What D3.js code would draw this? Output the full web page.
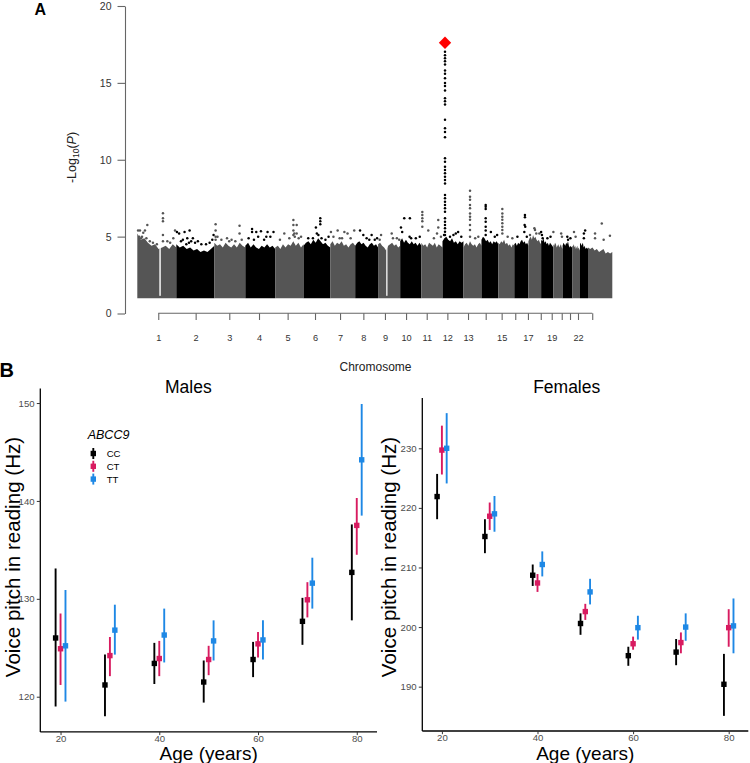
<!DOCTYPE html>
<html><head><meta charset="utf-8">
<script src="https://cdn.jsdelivr.net/npm/d3@7"></script>
<style>
body{margin:0;background:#fff}
svg{display:block;font-family:"Liberation Sans",Arial,Helvetica,sans-serif}
</style>
</head><body>
<svg id="c" width="750" height="763"></svg>
<script>
// ---------------- Panel A data (Manhattan plot) ----------------
const chromosomes = ["1","2","3","4","5","6","7","8","9","10","11","12","13","14","15","16","17","18","19","20","21","22","X"];
const chrLengthMb = [249.3,243.2,198.0,191.2,180.9,171.1,159.1,146.4,141.2,135.5,135.0,133.9,115.2,107.3,102.5,90.4,81.2,78.1,59.1,63.0,48.1,51.3,155.3];
// axis tick positions (cumulative Mb) and labels as printed
const chrTickMb = [134,373,588,778,961,1136,1296,1445,1583,1718,1850,1982,2114,2227,2329,2416,2497,2579,2649,2713,2766,2817,2908];
const chrTickLabels = ["1","2","3","4","5","6","7","8","9","10","11","12","13","","15","","17","","19","","","22",""];
// upper edge of the dense cloud of SNPs (-log10 P), evenly along each chromosome
const chrEnvelope = [
  [5.2,4.8,4.9,4.6,4.4,4.5,4.2,4.3,4.4,4.2,4.5,4.3],
  [4.5,4.3,4.4,4.2,4.3,4.1,4.2,4.0,4.1,4.0,4.2,4.4],
  [4.6,4.4,4.5,4.3,4.6,4.4,4.3,4.5,4.3,4.6,4.4,4.3],
  [4.4,4.6,4.3,4.5,4.3,4.2,4.4,4.3,4.5,4.3,4.4,4.2],
  [4.3,4.4,4.2,4.5,4.3,4.5,4.4,4.7,4.4,4.6,4.3,4.5],
  [4.4,4.6,4.7,4.5,4.8,4.6,4.9,4.7,4.5,4.6,4.4,4.3],
  [4.5,4.7,4.4,4.6,4.5,4.7,4.4,4.5,4.3,4.5,4.6,4.4],
  [4.4,4.6,4.7,4.5,4.6,4.4,4.3,4.5,4.6,4.4,4.5,4.3],
  [4.5,4.6,4.4,4.3,4.1,4.4,4.5,4.6,4.4,4.5,4.3,4.4],
  [4.7,4.9,4.6,4.8,4.6,4.5,4.7,4.5,4.6,4.4,4.6,4.4],
  [4.6,4.4,4.5,4.3,4.6,4.5,4.4,4.6,4.3,4.5,4.4,4.3],
  [4.7,4.9,5.0,4.8,4.7,4.9,4.6,4.7,4.5,4.7,4.6,4.7],
  [4.3,4.5,4.6,4.4,4.7,4.5,4.4,4.5,4.3,4.5,4.6,4.4],
  [4.8,5.0,4.9,4.7,4.8,4.6,4.7,4.5,4.7,4.6,4.7,4.5],
  [4.6,4.5,4.7,4.6,4.8,4.5,4.6,4.4,4.5,4.3,4.5,4.4],
  [4.5,4.6,4.4,4.6,4.5,4.7,4.8,4.6,4.7,4.5,4.6,4.4],
  [4.7,4.9,5.0,4.8,5.1,4.9,5.0,4.8,4.7,4.8,4.6,4.5],
  [4.8,4.7,4.9,4.6,4.7,4.5,4.6,4.4,4.6,4.5,4.4,4.3],
  [4.5,4.4,4.6,4.5,4.3,4.4,4.5,4.3,4.4,4.5,4.3,4.2],
  [4.4,4.6,4.5,4.4,4.6,4.5,4.7,4.4,4.3,4.4,4.3,4.4],
  [4.3,4.4,4.5,4.3,4.4,4.2,4.3,4.4,4.2,4.3,4.2,4.1],
  [4.5,4.6,4.4,4.5,4.6,4.3,4.4,4.3,4.2,4.3,4.2,4.3],
  [4.3,4.2,4.3,4.1,4.2,4.0,4.1,4.2,3.9,4.0,3.9,4.0]
];
// regions without SNPs: [chromosome index, start Mb, end Mb]
const chrGaps = [[0,141,150],[8,52,60]];
// individual SNPs above the dense cloud: [chromosome index, Mb, -log10 P]
const topSnps = [
  [0,5,5.4],[0,17,5.4],[0,30,5.0],[0,38,5.25],[0,49,5.4],[0,64,5.76],[0,58,4.9],[0,80,4.7],[0,164,6.52],[0,164,6.2],[0,164,6.0],[0,164,5.1],[0,164,4.7],[0,192,4.7],[0,230,4.9],[0,241,5.4],[0,210,4.6],[0,12,5.0],[0,24,4.9],[0,100,4.6],[0,125,4.5],
  [1,4,5.3],[1,18,5.2],[1,42,4.8],[1,53,5.3],[1,64,4.5],[1,81,4.6],[1,85,5.4],[1,106,4.9],[1,120,4.6],[1,138,4.7],[1,160,4.5],[1,190,4.5],[1,213,4.6],[1,230,4.8],[1,238,5.1],[1,30,4.7],[1,70,4.9],[1,95,4.7],
  [2,8,5.8],[2,8,5.4],[2,8,5.0],[2,8,4.8],[2,20,5.0],[2,81,4.9],[2,95,4.7],[2,134,4.7],[2,161,5.7],[2,161,5.2],[2,175,4.8],[2,45,4.8],[2,110,4.8],
  [3,21,4.9],[3,43,5.5],[3,43,5.3],[3,70,5.3],[3,82,5.0],[3,100,5.35],[3,134,5.0],[3,142,5.3],[3,160,5.0],[3,180,5.3],[3,55,4.8],[3,120,4.8],
  [4,58,5.2],[4,90,4.9],[4,116,6.08],[4,116,5.76],[4,116,5.4],[4,116,5.1],[4,122,5.2],[4,125,5.0],[4,150,4.9],[4,137,5.76],[4,137,5.2],[4,165,5.0],[4,30,4.8],
  [5,79,5.6],[5,85,5.2],[5,60,4.9],[5,107,6.2],[5,107,6.0],[5,107,5.8],[5,115,4.9],[5,140,4.8],[5,30,4.9],[5,160,5.0],[5,95,5.1],
  [6,4,5.3],[6,20,5.0],[6,47,5.4],[6,60,4.9],[6,90,5.3],[6,110,5.2],[6,130,4.9],[6,153,5.4],[6,75,4.9],
  [7,31,5.4],[7,52,5.1],[7,73,4.9],[7,105,5.1],[7,125,4.8],[7,140,4.9],[7,90,4.8],
  [8,19,5.1],[8,87,5.2],[8,95,4.9],[8,120,4.9],[8,135,4.8],[8,10,4.8],
  [9,5,5.6],[9,13,5.3],[9,26,6.2],[9,62,6.2],[9,70,4.9],[9,60,5.0],[9,100,4.9],[9,125,5.0],
  [10,6,6.6],[10,6,6.4],[10,6,6.2],[10,6,6.0],[10,6,5.65],[10,44,5.4],[10,108,6.08],[10,108,5.6],[10,100,5.2],[10,80,4.9],[10,125,5.0],
  [11,16,17.03],[11,16,16.8],[11,16,16.6],[11,16,16.4],[11,16,16.2],[11,16,15.8],[11,16,15.6],[11,16,15.3],[11,16,15.0],[11,16,14.8],[11,16,14.5],[11,16,14.0],[11,16,13.8],[11,16,13.6],[11,16,12.6],[11,16,12.05],[11,16,11.8],[11,16,11.46],[11,16,10.1],[11,16,9.87],[11,16,9.55],[11,16,9.33],[11,16,9.12],[11,16,8.9],[11,16,8.68],[11,16,8.46],[11,16,7.7],[11,16,7.49],[11,16,7.27],[11,16,7.06],[11,16,6.84],[11,16,6.62],[11,16,6.19],[11,16,5.97],[11,16,5.76],[11,16,5.54],[11,16,5.32],[11,16,5.1],
  [11,48,5.0],[11,70,5.1],[11,100,5.3],[11,85,5.2],[11,120,5.0],[11,10,5.1],
  [12,42,7.99],[12,42,7.6],[12,42,7.4],[12,42,7.06],[12,42,6.84],[12,42,6.5],[12,42,6.3],[12,42,6.1],[12,42,5.76],[12,42,5.43],[12,42,5.0],[12,95,5.0],[12,75,4.9],
  [13,27,7.06],[13,27,6.95],[13,27,6.8],[13,27,6.19],[13,27,5.97],[13,27,5.65],[13,27,5.4],[13,27,5.1],[13,60,5.3],[13,85,5.0],[13,100,5.1],
  [14,26,6.8],[14,26,6.5],[14,26,6.3],[14,26,6.1],[14,26,5.87],[14,26,5.65],[14,26,5.43],[14,26,5.2],[14,60,5.0],[14,90,4.9],
  [15,68,6.4],[15,68,6.26],[15,66,5.76],[15,70,5.65],[15,64,5.3],[15,80,5.0],[15,20,5.0],
  [16,38,5.54],[16,42,5.43],[16,50,5.2],[16,10,5.1],[16,70,5.2],
  [17,0,5.3],[17,5,5.1],[17,10,4.9],[17,40,4.9],[17,60,5.0],
  [18,0,5.3],[18,50,5.2],[18,55,5.0],
  [19,30,5.0],[19,35,4.8],[19,50,4.9],
  [20,10,5.3],[20,20,5.0],
  [21,33,5.4],[21,25,5.2],[21,25,4.9],
  [22,45,5.2],[22,88,5.86],[22,140,5.05],[22,45,4.9],[22,100,4.8]
];
const leadSnp = [11, 16, 17.61]; // chromosome index, Mb, -log10 P
const yTicksA = [0,5,10,15,20];

// ---------------- Panel B data ----------------
const ages = [20,30,40,50,60,70,80];
const genotypes = ["CC","CT","TT"];
const genotypeColors = ["#000000","#D81B60","#1E88E5"];
const maleMean = [
  [126.0,121.2,123.4,121.5,123.8,127.7,132.7],
  [124.9,124.2,123.9,123.8,125.4,129.9,137.5],
  [125.2,126.8,126.3,125.7,125.8,131.6,144.2]
];
const maleLow = [
  [119.0,118.0,121.3,119.4,122.0,125.3,127.8],
  [121.2,122.1,122.1,122.2,124.0,128.1,134.5],
  [119.5,124.3,123.5,123.7,123.8,129.0,138.5]
];
const maleHigh = [
  [133.1,124.3,125.5,123.7,125.6,130.1,137.6],
  [128.5,126.1,125.7,125.2,126.6,131.7,140.3],
  [130.9,129.4,129.0,127.8,127.8,134.2,149.9]
];
const femaleMean = [
  [221.9,215.2,208.7,200.6,195.2,195.8,190.4],
  [229.7,218.6,207.4,202.6,197.2,197.4,199.9],
  [230.0,219.0,210.5,205.9,199.9,200.0,200.2]
];
const femaleLow = [
  [218.1,212.4,206.9,198.7,193.5,193.6,185.1],
  [225.6,216.3,205.9,201.2,196.2,195.6,196.7],
  [224.1,216.0,208.5,203.8,197.9,197.7,195.6]
];
const femaleHigh = [
  [225.7,218.1,210.5,202.3,196.7,198.0,195.5],
  [233.8,220.9,208.9,203.9,198.4,199.1,203.0],
  [235.9,222.0,212.7,208.1,201.9,202.3,204.8]
];
const ageTicks = [20,40,60,80];
const maleYTicks = [120,130,140,150];
const femaleYTicks = [190,200,210,220,230];

// ================= drawing =================
const svg = d3.select("#c");

// ---- Panel A ----
const gA = svg.append("g");
const totalMb = d3.sum(chrLengthMb);
const chrStart = [];
{ let acc = 0; chrLengthMb.forEach(l => { chrStart.push(acc); acc += l; }); }
const xA = d3.scaleLinear().domain([0, totalMb]).range([137.3, 612.3]);
const yA = d3.scaleLinear().domain([0, 20]).range([313.5, 6]);
const chrColor = i => (i % 2 === 0 ? "#555555" : "#000000");

const area = d3.area().x(d => xA(d[0])).y0(yA(1)).y1(d => yA(d[1]));
chromosomes.forEach((c, i) => {
  const env = chrEnvelope[i], n = env.length;
  const pts = env.map((v, k) => [chrStart[i] + chrLengthMb[i] * k / (n - 1), v]);
  gA.append("path").datum(pts).attr("d", area).attr("fill", chrColor(i));
});
chrGaps.forEach(([ci, a, b]) => {
  gA.append("rect")
    .attr("x", xA(chrStart[ci] + a)).attr("width", xA(chrStart[ci] + b) - xA(chrStart[ci] + a))
    .attr("y", yA(6)).attr("height", yA(1.15) - yA(6)).attr("fill", "#fff");
});
gA.selectAll("circle.snp").data(topSnps).join("circle")
  .attr("class", "snp")
  .attr("cx", d => xA(chrStart[d[0]] + d[1]))
  .attr("cy", d => yA(d[2]))
  .attr("r", 1.25)
  .attr("fill", d => chrColor(d[0]));
gA.append("path")
  .attr("d", d3.symbol(d3.symbolSquare, 76)())
  .attr("transform", `translate(${xA(chrStart[leadSnp[0]] + leadSnp[1])},${yA(leadSnp[2])}) rotate(45)`)
  .attr("fill", "#ff0000");

// y axis A
const yAxisA = gA.append("g").attr("transform", "translate(125,0)")
  .call(d3.axisLeft(yA).tickValues(yTicksA).tickSize(7.5).tickSizeOuter(0).tickPadding(6));
yAxisA.select(".domain").attr("stroke", "#666").attr("stroke-width", 1.1);
yAxisA.selectAll(".tick line").attr("stroke", "#666").attr("stroke-width", 1.1);
yAxisA.selectAll(".tick text").attr("font-size", 10.5).attr("fill", "#333").attr("font-family", null);

// x axis A
const xAxisA = gA.append("g").attr("transform", "translate(0,313.3)")
  .call(d3.axisBottom(xA).tickValues(chrTickMb).tickFormat((d, i) => chrTickLabels[i]).tickSize(6.7).tickSizeOuter(0).tickPadding(14.3));
xAxisA.select(".domain").remove();
xAxisA.append("line").attr("x1", xA(chrTickMb[0])).attr("x2", xA(chrTickMb[chrTickMb.length - 1]))
  .attr("stroke", "#666").attr("stroke-width", 1.1);
xAxisA.selectAll(".tick line").attr("stroke", "#666").attr("stroke-width", 1.1);
xAxisA.selectAll(".tick text").attr("font-size", 9.2).attr("fill", "#333").attr("font-family", null);

gA.append("text").attr("x", 375.5).attr("y", 370.5).attr("text-anchor", "middle")
  .attr("font-size", 12).attr("fill", "#222").text("Chromosome");
{
  const t = gA.append("text").attr("transform", "translate(76,157.5) rotate(-90)")
    .attr("text-anchor", "middle").attr("font-size", 12.5).attr("fill", "#222");
  t.append("tspan").text("-Log");
  t.append("tspan").attr("font-size", 8.5).attr("dy", 3).text("10");
  t.append("tspan").attr("dy", -3).text("(");
  t.append("tspan").attr("font-style", "italic").text("P");
  t.append("tspan").text(")");
}
svg.append("text").attr("x", 34.5).attr("y", 15.3).attr("font-weight", "bold").attr("font-size", 16).text("A");
svg.append("text").attr("x", -0.5).attr("y", 376.7).attr("font-weight", "bold").attr("font-size", 20).text("B");

// ---- Panel B ----
function drawPanel(o) {
  const g = svg.append("g");
  const xs = d3.scaleLinear().domain(o.xDomain).range(o.xRange);
  const allVals = o.low.flat().concat(o.high.flat());
  const lo = d3.min(allVals), hi = d3.max(allVals), pad = (hi - lo) * 0.05;
  const ys = d3.scaleLinear().domain([lo - pad, hi + pad]).range(o.yRange);

  const offsets = [-1, 0, 1];
  genotypes.forEach((gname, gi) => {
    const rows = ages.map((a, k) => ({ x: a + offsets[gi], m: o.mean[gi][k], l: o.low[gi][k], h: o.high[gi][k] }));
    g.selectAll(null).data(rows).join("line")
      .attr("x1", d => xs(d.x)).attr("x2", d => xs(d.x))
      .attr("y1", d => ys(d.l)).attr("y2", d => ys(d.h))
      .attr("stroke", genotypeColors[gi]).attr("stroke-width", 1.9);
    g.selectAll(null).data(rows).join("rect")
      .attr("x", d => xs(d.x) - 2.7).attr("y", d => ys(d.m) - 2.7)
      .attr("width", 5.4).attr("height", 5.4)
      .attr("fill", genotypeColors[gi]);
  });

  const ya = g.append("g").attr("transform", `translate(${o.xRange[0]},0)`)
    .call(d3.axisLeft(ys).tickValues(o.yTicks).tickSize(3.5).tickSizeOuter(0).tickPadding(2.2));
  const xa = g.append("g").attr("transform", `translate(0,${o.yRange[0]})`)
    .call(d3.axisBottom(xs).tickValues(ageTicks).tickSize(3.2).tickSizeOuter(0).tickPadding(0.4));
  [ya, xa].forEach(ax => {
    ax.select(".domain").attr("stroke", "#000").attr("stroke-width", 1.3);
    ax.selectAll(".tick line").attr("stroke", "#333").attr("stroke-width", 1);
    ax.selectAll(".tick text").attr("font-size", 9.6).attr("fill", "#4d4d4d").attr("font-family", null);
  });
  ya.select(".domain").attr("d", `M0,${o.yRange[0]}V${o.yRange[1]}`);
  xa.select(".domain").attr("d", `M${o.xRange[0]},0H${o.xRange[1]}`);

  g.append("text").attr("x", o.titleX).attr("y", 393).attr("text-anchor", "middle")
    .attr("font-size", 17.5).attr("fill", "#000").text(o.title);
  g.append("text").attr("x", (o.xRange[0] + o.xRange[1]) / 2).attr("y", 759.5).attr("text-anchor", "middle")
    .attr("font-size", 19).attr("fill", "#000").text("Age (years)");
  g.append("text").attr("transform", `translate(${o.yTitleX},557) rotate(-90)`).attr("text-anchor", "middle")
    .attr("font-size", 20.6).attr("fill", "#000").text("Voice pitch in reading (Hz)");
  return g;
}

const gM = drawPanel({
  title: "Males", titleX: 188.4, yTitleX: 19.5,
  mean: maleMean, low: maleLow, high: maleHigh, yTicks: maleYTicks,
  xDomain: [15.9, 84.1], xRange: [40.3, 377], yRange: [731.9, 388.4]
});
drawPanel({
  title: "Females", titleX: 566.7, yTitleX: 395.5,
  mean: femaleMean, low: femaleLow, high: femaleHigh, yTicks: femaleYTicks,
  xDomain: [15.9, 84.1], xRange: [422.3, 748.3], yRange: [731, 398]
});

// legend
const lg = gM.append("g");
lg.append("text").attr("x", 87.7).attr("y", 439.3).attr("font-size", 12.5).attr("font-style", "italic").text("ABCC9");
genotypes.forEach((gname, gi) => {
  const cy = 453.5 + gi * 12.8;
  lg.append("line").attr("x1", 93.3).attr("x2", 93.3).attr("y1", cy - 5.5).attr("y2", cy + 5.5)
    .attr("stroke", genotypeColors[gi]).attr("stroke-width", 1.9);
  lg.append("rect").attr("x", 93.3 - 2.7).attr("y", cy - 2.7).attr("width", 5.4).attr("height", 5.4)
    .attr("fill", genotypeColors[gi]);
  lg.append("text").attr("x", 106.7).attr("y", cy + 3.6).attr("font-size", 9.6).attr("fill", "#000").text(gname);
});
</script>
</body></html>
